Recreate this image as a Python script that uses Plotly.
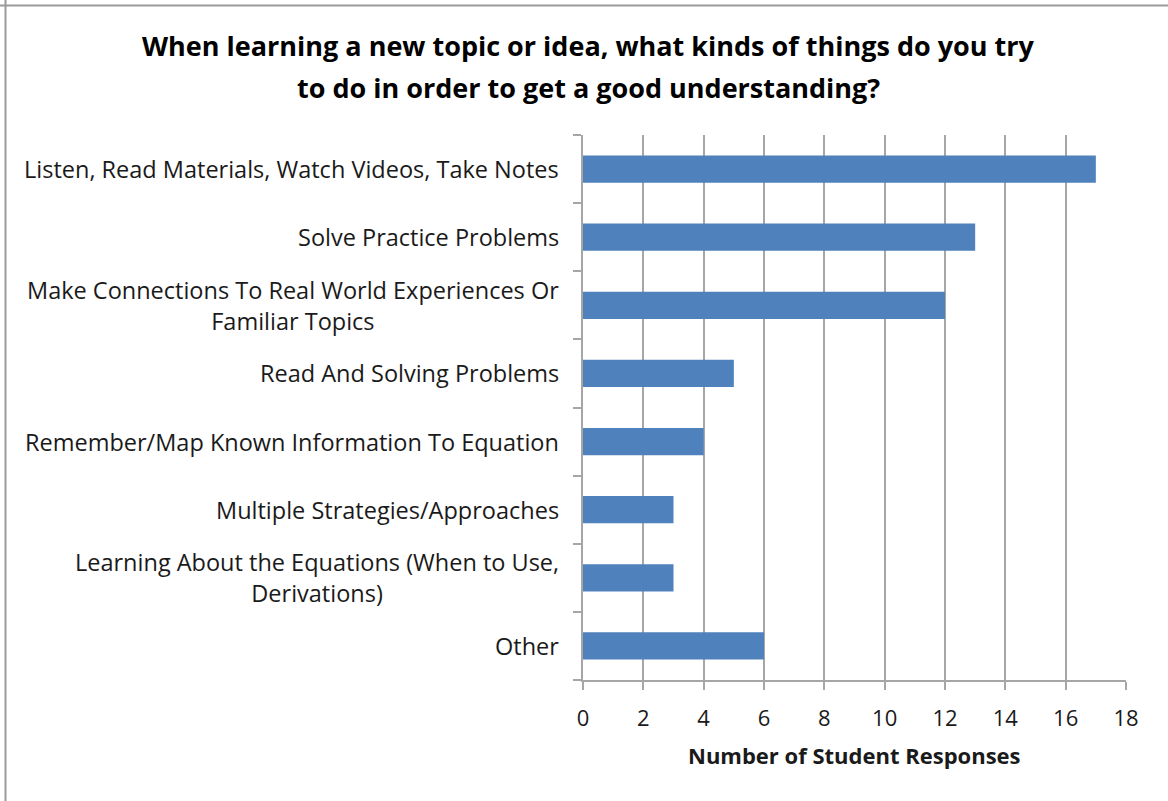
import plotly.graph_objects as go

# Survey responses, listed top to bottom as displayed
categories = [
    "Listen, Read Materials, Watch Videos, Take Notes",
    "Solve Practice Problems",
    "Make Connections To Real World Experiences Or<br>Familiar Topics",
    "Read And Solving Problems",
    "Remember/Map Known Information To Equation",
    "Multiple Strategies/Approaches",
    "Learning About the Equations (When to Use,<br>Derivations)",
    "Other",
]
responses = [17, 13, 12, 5, 4, 3, 3, 6]
x_ticks = list(range(0, 19, 2))

title_lines = [
    "When learning a new topic or idea, what kinds of things do you try",
    "to do in order to get a good understanding?",
]
x_title = "Number of Student Responses"

W, H = 1168, 801
M_L, M_R, M_T, M_B = 583, 42, 135, 121
PW, PH = W - M_L - M_R, H - M_T - M_B

FONT = "Open Sans"
GRID = "#a6a6a6"
TEXT = "#1a1a1a"
BAR = "#4f81bd"

ypos = list(range(len(categories)))

fig = go.Figure(
    go.Bar(
        x=responses,
        y=ypos,
        orientation="h",
        width=0.4,
        marker=dict(color=BAR, line=dict(width=0)),
        hoverinfo="skip",
    )
)


def px_x(p):
    return (p - M_L) / PW


def px_y(p):
    return 1 - (p - M_T) / PH


annotations = []
# category labels, right-aligned to the axis, wrapped lines centred
for i, lab in enumerate(categories):
    annotations.append(
        dict(
            text=lab, x=px_x(561), xref="paper", y=i, yref="y",
            xanchor="right", yanchor="middle", align="center", showarrow=False,
            font=dict(family=FONT, size=23.5, color=TEXT),
        )
    )

title_y = [45, 87]
for t, yy in zip(title_lines, title_y):
    annotations.append(
        dict(
            text="<b>" + t + "</b>", x=px_x(588), xref="paper", y=px_y(yy), yref="paper",
            xanchor="center", yanchor="middle", showarrow=False,
            font=dict(family=FONT, size=27, color="#000000"),
        )
    )

annotations.append(
    dict(
        text="<b>" + x_title + "</b>", x=px_x(854), xref="paper", y=px_y(755), yref="paper",
        xanchor="center", yanchor="middle", showarrow=False,
        font=dict(family=FONT, size=22, color=TEXT),
    )
)

# chart frame: top and left edges
shapes = [
    dict(type="line", xref="paper", yref="paper", x0=px_x(0), x1=px_x(W), y0=px_y(5.5), y1=px_y(5.5),
         line=dict(color="#9a9a9a", width=2)),
    dict(type="line", xref="paper", yref="paper", x0=px_x(5.5), x1=px_x(5.5), y0=px_y(0), y1=px_y(H),
         line=dict(color="#9a9a9a", width=2)),
]

fig.update_layout(
    width=W, height=H,
    margin=dict(l=M_L, r=M_R, t=M_T, b=M_B),
    paper_bgcolor="white", plot_bgcolor="white",
    showlegend=False,
    annotations=annotations,
    shapes=shapes,
    xaxis=dict(
        range=[0, 18], tickvals=x_ticks, ticks="outside", ticklen=8, tickwidth=2,
        tickcolor=GRID, showgrid=True, gridcolor=GRID, gridwidth=2,
        showline=True, linecolor=GRID, linewidth=2, zeroline=False,
        tickfont=dict(family=FONT, size=22, color=TEXT),
        ticklabelstandoff=10,
    ),
    yaxis=dict(
        range=[len(categories) - 0.5, -0.5],
        tickvals=[i - 0.5 for i in range(len(categories) + 1)],
        showticklabels=False, ticks="outside", ticklen=8, tickwidth=2, tickcolor=GRID,
        showgrid=False, showline=True, linecolor=GRID, linewidth=2, zeroline=False,
    ),
)

fig.write_html("out.html")
